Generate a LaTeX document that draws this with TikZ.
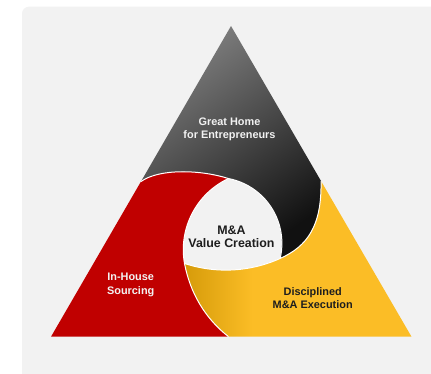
\documentclass[tikz,border=0pt]{standalone}
\usepackage{fontspec}
\setmainfont{Liberation Sans}
\definecolor{panel}{HTML}{F2F2F2}
\definecolor{myred}{HTML}{C00000}
\definecolor{yel}{HTML}{FBBD26}
\definecolor{yeldark}{HTML}{D69B0A}
\definecolor{gtop}{HTML}{808080}
\definecolor{gbot}{HTML}{111111}
\definecolor{lighttxt}{HTML}{F2F2F2}
\definecolor{darktxt}{HTML}{1E1E1E}
\pgfdeclarehorizontalshading{yelshade}{100bp}{color(0bp)=(yeldark); color(25bp)=(yeldark); color(40bp)=(yel); color(100bp)=(yel)}
\tikzset{
  armline/.style={draw=white, line width=1pt},
  outerlbl/.style={align=center, font=\fontsize{10.9}{13.2}\selectfont\bfseries, inner sep=0pt},
  centerlbl/.style={align=center, font=\fontsize{12.4}{12.8}\selectfont\bfseries, text=darktxt, inner sep=0pt},
}
\begin{document}
\begin{tikzpicture}[x=1pt,y=1pt]
\useasboundingbox (0,0) rectangle (431,373);
\clip (0,0) rectangle (431,373);
\fill[white] (0,0) rectangle (431,373);
\fill[panel, rounded corners=7pt] (22,366.3) rectangle (450,-20);

\coordinate (T) at (231,347);
\coordinate (BL) at (51,36.3);
\coordinate (BR) at (411.5,36.3);
\coordinate (P1) at (141,191.5);
\coordinate (P2) at (321,192);
\coordinate (P3) at (228.5,36.3);
\coordinate (Ct) at (228.3,194.5);
\coordinate (Cr) at (280,114.5);
\coordinate (Cl) at (184.5,109.5);

% gray region
\shade[top color=gtop, bottom color=gbot, shading angle=35]
  (P1) -- (T) -- (P2)
  .. controls (321.9,147) and (307.4,126.7) .. (Cr)
  arc[start angle=-13.4, end angle=79.2, radius=66]
  .. controls (202,203) and (160,205) .. (P1) -- cycle;

% red region
\fill[myred]
  (P3) -- (BL) -- (P1)
  .. controls (160,205) and (202,203) .. (Ct)
  arc[start angle=115.3, end angle=190.1, radius=78.7]
  .. controls (190.2,80.1) and (204.8,54.9) .. (P3) -- cycle;

% yellow region
\shade[shading=yelshade]
  (P2) -- (BR) -- (P3)
  .. controls (204.8,54.9) and (190.2,80.1) .. (Cl)
  arc[start angle=-108.2, end angle=-65.8, radius=132]
  .. controls (307.4,126.7) and (321.9,147) .. (P2) -- cycle;

% separators
\draw[armline] (P1) .. controls (160,205) and (202,203) .. (Ct)
  arc[start angle=79.2, end angle=-13.4, radius=66];
\draw[armline] (P3) .. controls (204.8,54.9) and (190.2,80.1) .. (Cl)
  arc[start angle=190.1, end angle=115.3, radius=78.7];
\draw[armline] (P2) .. controls (321.9,147) and (307.4,126.7) .. (Cr)
  arc[start angle=-65.8, end angle=-108.2, radius=132];

% labels
\node[outerlbl, text=lighttxt] (home) at (229.5,244) {Great Home\\for Entrepreneurs};
\node[centerlbl] (center) at (231.5,136) {M\&A\\Value Creation};
\node[outerlbl, text=lighttxt] (sourcing) at (130.7,88) {In-House\\Sourcing};
\node[outerlbl, text=darktxt] (exec) at (312.7,74.5) {Disciplined\\M\&A Execution};
\end{tikzpicture}
\end{document}
